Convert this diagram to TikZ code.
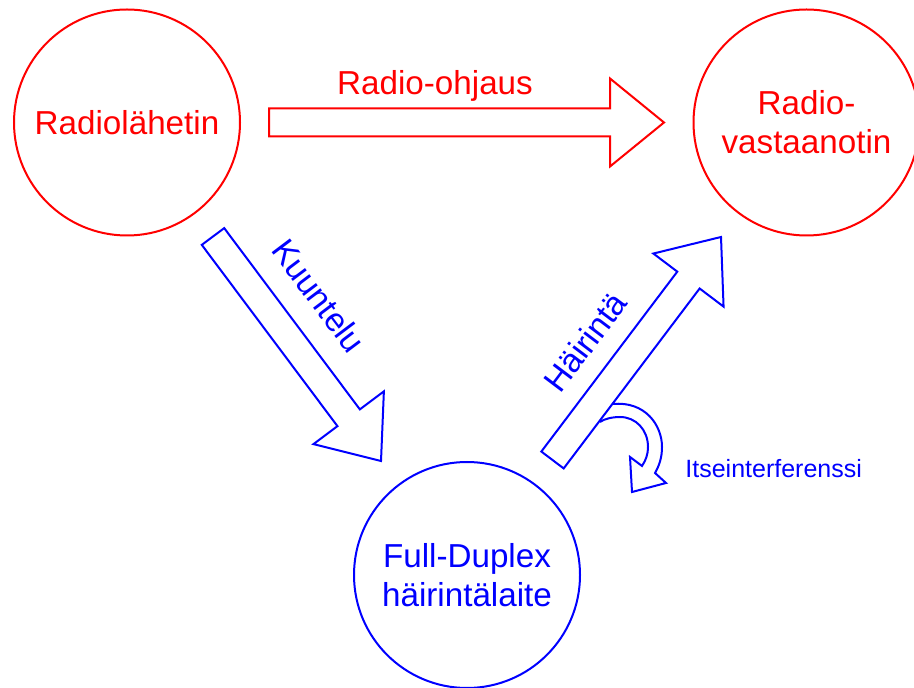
\documentclass[tikz,border=0pt]{standalone}
\usepackage{fontspec}
\setmainfont{Liberation Sans}
\usetikzlibrary{calc}
\definecolor{rred}{HTML}{FF0000}
\definecolor{jblue}{HTML}{0000FF}

% outlined block arrow from tail #2 to tip #3
\newcommand\fatarrow[3][]{%
  \draw[#1] let \p1=($(#3)-(#2)$), \n1={atan2(\y1,\x1)}, \n2={veclen(\x1,\y1)} in
    [shift={(#2)},rotate=\n1]
    (0pt,7pt) -- ({\n2-27pt},7pt) -- ({\n2-27pt},22pt) -- (\n2,0pt)
    -- ({\n2-27pt},-22pt) -- ({\n2-27pt},-7pt) -- (0pt,-7pt) -- cycle;}

\begin{document}
\begin{tikzpicture}[x=0.5pt,y=-0.5pt,
  dev/.style={circle,draw,line width=1pt,minimum size=113pt,inner sep=0pt,align=center,
    font=\fontsize{16.6}{19.5}\selectfont},
  big/.style={font=\fontsize{16.6}{19.5}\selectfont,inner sep=0pt},
  small/.style={font=\fontsize{12.5}{15}\selectfont,inner sep=0pt},
  fat/.style={line width=1pt,fill=white,line join=miter}]
\useasboundingbox (0,0) rectangle (914,688);

% ---------- the three devices ----------
\node[dev,draw=rred,text=rred] (tx) at (127,122.5) {Radiolähetin};
\node[dev,draw=rred,text=rred] (rx) at (806.5,122.5) {Radio-\\vastaanotin};
\node[dev,draw=jblue,text=jblue] (fd) at (467,575) {Full-Duplex\\häirintälaite};

% ---------- arrow ends ----------
\coordinate (ctlA) at (269,122.5); \coordinate (ctlB) at (664,122.5);
\coordinate (lisA) at (213,236.5); \coordinate (lisB) at (381,461);
\coordinate (jamA) at (552.5,460); \coordinate (jamB) at (721,237);

% ---------- self interference loop ----------
\draw[jblue,line width=1pt] (613,404) .. controls (645,401) and (662,425) .. (662,447)
  .. controls (662,458) and (659,466) .. (655,473) -- (666,483) -- (632,492) -- (630,457)
  -- (642,466) .. controls (646,460) and (648,454) .. (648,447)
  .. controls (648,430) and (636,417) .. (620,417) .. controls (612,417) and (604,419) .. (600,422);

% ---------- block arrows ----------
\fatarrow[fat,draw=rred]{ctlA}{ctlB}
\fatarrow[fat,draw=jblue]{lisA}{lisB}
\fatarrow[fat,draw=jblue]{jamA}{jamB}

% ---------- labels ----------
\node[big,text=rred,anchor=base] (ctlL) at (435,95) {Radio-ohjaus};
\node[big,text=jblue,rotate=-53] (lisL) at (319,296) {Kuuntelu};
\node[big,text=jblue,rotate=53] (jamL) at (585,342) {Häirintä};
\node[small,text=jblue,anchor=base west] (selfL) at (685,478) {Itseinterferenssi};
\end{tikzpicture}
\end{document}
